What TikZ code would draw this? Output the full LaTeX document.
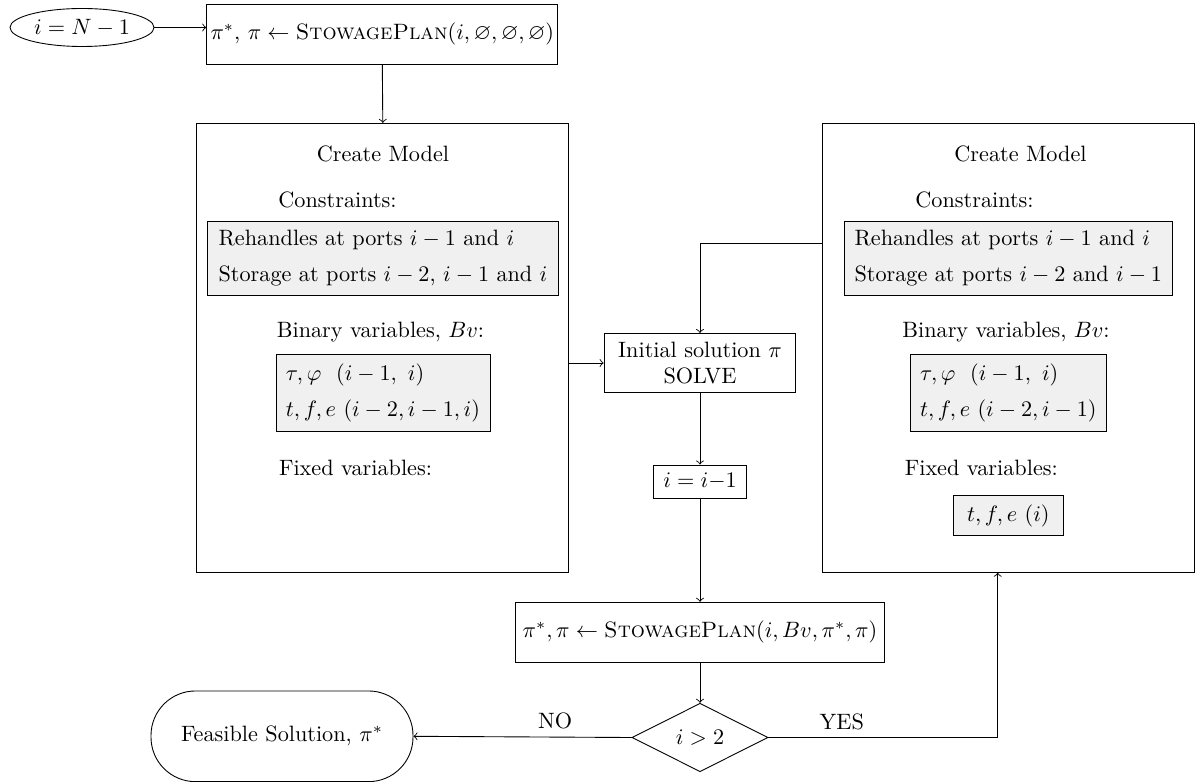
\documentclass[tikz,border=0pt]{standalone}
\usepackage{amssymb}
\usepackage{amsmath}
\usetikzlibrary{shapes.geometric}

\begin{document}
\begin{tikzpicture}[x=0.45pt, y=-0.45pt, >=to,
        box/.style={draw, rectangle, minimum height=27pt},
        panel/.style={draw, rectangle, minimum width=167.5pt, minimum height=202pt},
        greybox/.style={draw, rectangle, fill=gray!12, align=left}]
    \useasboundingbox (0,0) rectangle (1198,782);
    % Start
    \node[draw, ellipse, inner sep=1pt, minimum width=64.8pt, minimum height=17.1pt] (start) at (82,27.5) {$i = N-1$};
    \node[box, inner xsep=1.5pt, minimum width=158pt] (plan) at (382.3,34.3) {$\pi^*$, $\pi \leftarrow \textsc{StowagePlan}(i, \varnothing, \varnothing, \varnothing)$};
    % Model panels
    \node[panel] (lpanel) at (382.8,347.8) {};
    \node[panel] (rpanel) at (1008.3,347.8) {};
    % Left panel contents
    \node (lmodel) at (383,154) {Create Model};
    \node (lcons) at (337.5,199.5) {Constraints:};
    \node[greybox, minimum width=157.8pt, minimum height=33.6pt] (lconsbox) at (383,258.3)
        {Rehandles at ports $i-1$ and $i$\\[4pt] Storage at ports $i-2$, $i-1$ and $i$};
    \node (lbin) at (380.5,332.5) {Binary variables, $Bv$:};
    \node[greybox, minimum width=96.3pt, minimum height=34.5pt] (lbinbox) at (383,392.7)
        {$\tau, \varphi\ \ (i-1,\ i)$\\[4pt] $t, f, e\ (i-2, i-1, i)$};
    \node (lfix) at (355.5,468) {Fixed variables:};
    % Right panel contents
    \node (rmodel) at (1020.5,154) {Create Model};
    \node (rcons) at (974.5,199.5) {Constraints:};
    \node[greybox, minimum width=147.9pt, minimum height=33.6pt] (rconsbox) at (1008.3,258.3)
        {Rehandles at ports $i-1$ and $i$\\[4pt] Storage at ports $i-2$ and $i-1$};
    \node (rbin) at (1006,332) {Binary variables, $Bv$:};
    \node[greybox, minimum width=88.5pt, minimum height=34.5pt] (rbinbox) at (1008.3,393)
        {$\tau, \varphi\ \ (i-1,\ i)$\\[4pt] $t, f, e\ (i-2, i-1)$};
    \node (rfix) at (981.3,468) {Fixed variables:};
    \node[greybox, minimum width=49.5pt, minimum height=18pt] (rfixbox) at (1008.3,515.7) {$t, f, e\ (i)$};
    % Middle column
    \node[box, minimum width=86.3pt, minimum height=26.6pt, align=center] (solve) at (700,363) {Initial solution $\pi$\\SOLVE};
    \node[box, minimum width=42pt, minimum height=14.9pt] (dec) at (700,481.5) {$i = i{-}1$};
    \node[box, minimum width=164.8pt] (plan2) at (700,632.3) {$\pi^*, \pi \leftarrow \textsc{StowagePlan}(i, Bv, \pi^*, \pi)$};
    \node[draw, diamond, inner sep=0pt, minimum width=61.2pt, minimum height=30.8pt] (test) at (700,737.5) {$i > 2$};
    \node[draw, rectangle, rounded corners=20pt, minimum width=117.9pt, minimum height=40.8pt] (done) at (282,736.3) {Feasible Solution, $\pi^*$};
    \coordinate (fb) at (822.7,243.3);
    \coordinate (up) at (997.7,737.5);
    % Edges
    \draw[->] (start.east) -- (start.east -| plan.west);
    \draw[->] (plan.south) -- (lpanel.north);
    \draw[->] (lpanel.east |- solve.west) -- (solve.west);
    \draw[->] (fb) -| (solve.north);
    \draw[->] (solve) -- (dec);
    \draw[->] (dec) -- (plan2);
    \draw[->] (plan2) -- (test);
    \draw[->] (test.west) -- node[above, pos=0.35] {NO} (done.east);
    \draw[->] (test.east) -- node[above, pos=0.32] {YES} (up) -- (up |- rpanel.south);
\end{tikzpicture}
\end{document}
